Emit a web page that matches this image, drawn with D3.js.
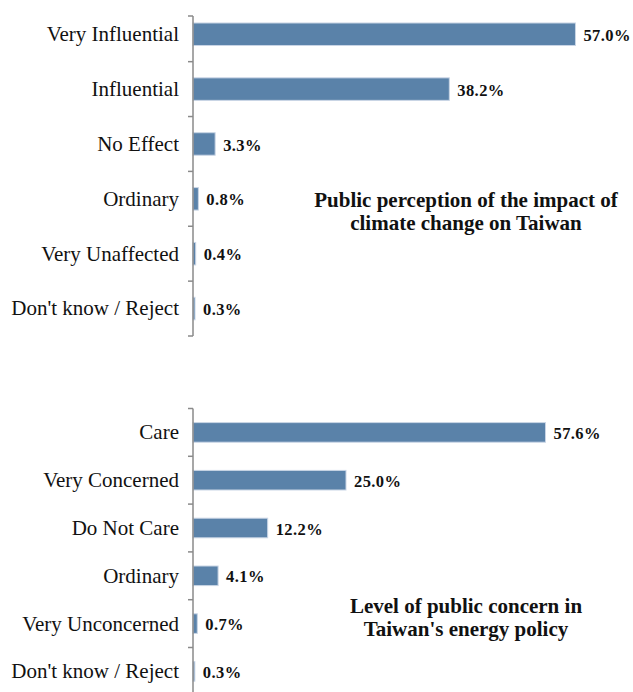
<!DOCTYPE html>
<html>
<head>
<meta charset="utf-8">
<script src="https://cdn.jsdelivr.net/npm/d3@7"></script>
<style>
  html, body { margin: 0; padding: 0; background: #fff; }
  svg { display: block; }
</style>
</head>
<body>
<svg id="chart" width="633" height="692"></svg>
<script>
// ---- Data ----
const impactCategories = ["Very Influential", "Influential", "No Effect", "Ordinary", "Very Unaffected", "Don't know / Reject"];
const impactValues = [57.0, 38.2, 3.3, 0.8, 0.4, 0.3];
const impactTitle = ["Public perception of the impact of", "climate change on Taiwan"];

const concernCategories = ["Care", "Very Concerned", "Do Not Care", "Ordinary", "Very Unconcerned", "Don't know / Reject"];
const concernValues = [57.6, 25.0, 12.2, 4.1, 0.7, 0.3];
const concernTitle = ["Level of public concern in", "Taiwan's energy policy"];

// ---- Drawing ----
const svg = d3.select("#chart");
const serif = "'Liberation Serif', 'Times New Roman', Times, serif";
const barFill = "#5a82a9";
const barStroke = "#c9d5e5";
const axisColor = "#8a8a8a";
const axisX = 193;

function drawPanel(cfg) {
  const g = svg.append("g");
  const y = d3.scaleBand()
    .domain(cfg.categories)
    .range(cfg.yRange)
    .paddingInner(0.59)
    .paddingOuter(0.295);
  const x = d3.scaleLinear().domain([0, 60]).range([axisX, axisX + cfg.pxPer60]);

  const data = cfg.categories.map((c, i) => ({ c, v: cfg.values[i] }));

  // bars
  g.selectAll("rect.bar").data(data).join("rect")
    .attr("class", "bar")
    .attr("x", x(0))
    .attr("y", d => y(d.c))
    .attr("width", d => x(d.v) - x(0))
    .attr("height", y.bandwidth())
    .attr("fill", barFill)
    .attr("stroke", barStroke)
    .attr("stroke-width", 1);

  // axis line
  g.append("line")
    .attr("x1", axisX).attr("x2", axisX)
    .attr("y1", cfg.axisTop).attr("y2", cfg.axisBottom)
    .attr("stroke", axisColor).attr("stroke-width", 1.5);

  // ticks at band boundaries
  const boundaries = cfg.categories.map((c, i) => i === 0 ? cfg.axisTop : y(c) - y.step() * y.paddingInner() / 2);
  boundaries.push(y(cfg.categories[cfg.categories.length - 1]) + y.bandwidth() + y.step() * y.paddingInner() / 2);
  g.selectAll("line.tick").data(boundaries.filter(b => b <= cfg.axisBottom)).join("line")
    .attr("class", "tick")
    .attr("x1", axisX - 5).attr("x2", axisX)
    .attr("y1", d => d).attr("y2", d => d)
    .attr("stroke", axisColor).attr("stroke-width", 1.5);

  // category labels
  g.selectAll("text.cat").data(data).join("text")
    .attr("class", "cat")
    .attr("x", 179)
    .attr("y", d => y(d.c) + y.bandwidth() / 2)
    .attr("dy", "0.33em")
    .attr("text-anchor", "end")
    .attr("font-family", serif)
    .attr("font-size", 21)
    .attr("fill", "#111")
    .text(d => d.c);

  // value labels
  g.selectAll("text.val").data(data).join("text")
    .attr("class", "val")
    .attr("x", d => x(d.v) + 8)
    .attr("y", d => y(d.c) + y.bandwidth() / 2)
    .attr("dy", "0.4em")
    .attr("font-family", serif)
    .attr("font-weight", "bold")
    .attr("font-size", 16.5)
    .attr("letter-spacing", 0.4)
    .attr("fill", "#111")
    .text(d => d.v.toFixed(1) + "%");

  // title
  g.selectAll("text.title").data(cfg.title).join("text")
    .attr("class", "title")
    .attr("x", 466)
    .attr("y", (d, i) => cfg.titleY + i * 23.3)
    .attr("text-anchor", "middle")
    .attr("font-family", serif)
    .attr("font-weight", "bold")
    .attr("font-size", 21)
    .attr("fill", "#111")
    .text(d => d);
}

drawPanel({
  categories: impactCategories,
  values: impactValues,
  title: impactTitle,
  yRange: [6.8, 336],
  axisTop: 16,
  axisBottom: 336,
  pxPer60: 60 * 6.71,
  titleY: 207
});

drawPanel({
  categories: concernCategories,
  values: concernValues,
  title: concernTitle,
  yRange: [408.5, 695.3],
  axisTop: 408.5,
  axisBottom: 692,
  pxPer60: 60 * 6.12,
  titleY: 612.7
});
</script>
</body>
</html>
